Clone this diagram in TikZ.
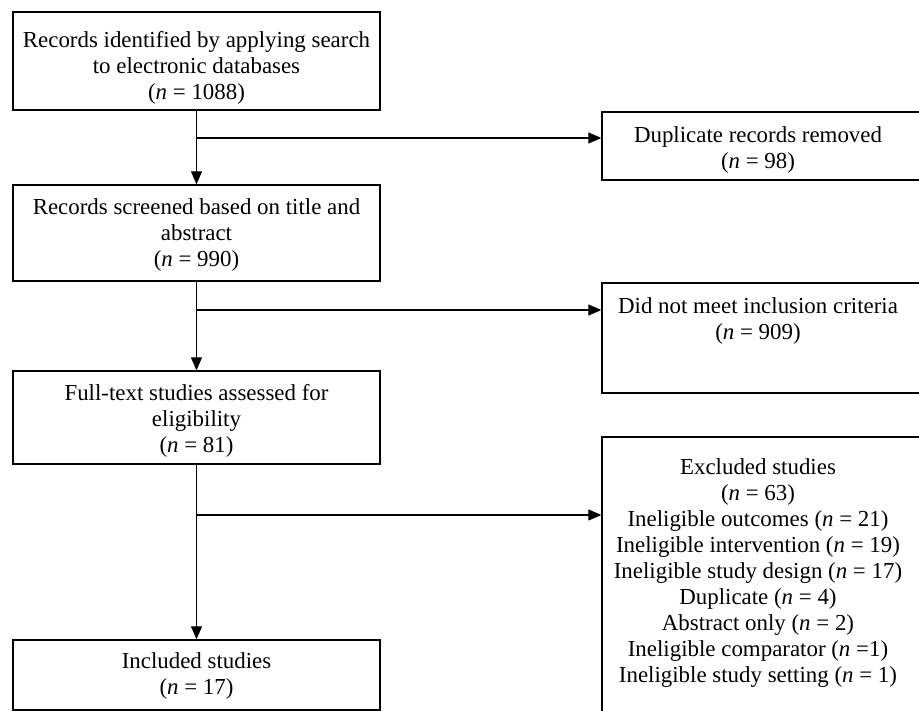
\documentclass[tikz,border=0pt]{standalone}
\usepackage{fontspec}
\setmainfont{Liberation Serif}
\usetikzlibrary{arrows.meta}

\begin{document}
\begin{tikzpicture}[x=1pt,y=-1pt,
   box/.style={draw,line width=1.3pt,inner sep=0pt},
   txt/.style={align=center,inner sep=0pt,font=\fontsize{22.9}{26}\selectfont},
   arr/.style={line width=1.2pt,-{Triangle[length=13pt,width=11pt]}}]
\useasboundingbox (0,0) rectangle (919,711);
\clip (0,0) rectangle (919,711);
% main column
\node[box,minimum width=367,minimum height=98] (ident) at (196.5,61) {};
\node[txt] (identtxt) at (196.5,67.5) {Records identified by applying search\\to electronic databases\\(\textit{n} = 1088)};
\node[box,minimum width=367,minimum height=96] (screen) at (196.5,233) {};
\node[txt] (screentxt) at (196.5,235) {Records screened based on title and\\abstract\\(\textit{n} = 990)};
\node[box,minimum width=367,minimum height=93] (full) at (196.5,417.5) {};
\node[txt] (fulltxt) at (196.5,421) {Full-text studies assessed for\\eligibility\\(\textit{n} = 81)};
\node[box,minimum width=367,minimum height=70] (incl) at (196.5,675) {};
\node[txt] (incltxt) at (196.5,675.5) {Included studies\\(\textit{n} = 17)};
% exclusions
\node[box,minimum width=323,minimum height=68] (dup) at (763.5,146) {};
\node[txt] (duptxt) at (758,149.5) {Duplicate records removed\\(\textit{n} = 98)};
\node[box,minimum width=323,minimum height=110] (nomeet) at (763.5,338) {};
\node[txt] (nomeettxt) at (758,320.5) {Did not meet inclusion criteria\\(\textit{n} = 909)};
\node[box,minimum width=323,minimum height=333] (excl) at (763.5,603.5) {};
\node[txt] (excltxt) at (758,573.5) {Excluded studies\\(\textit{n} = 63)\\
   Ineligible outcomes (\textit{n} = 21)\\Ineligible intervention (\textit{n} = 19)\\
   Ineligible study design (\textit{n} = 17)\\Duplicate (\textit{n} = 4)\\
   Abstract only (\textit{n} = 2)\\Ineligible comparator (\textit{n} =1)\\
   Ineligible study setting (\textit{n} = 1)};
% connectors
\coordinate (b1) at (196.5,138);
\coordinate (b2) at (196.5,310);
\coordinate (b3) at (196.5,515);
\draw[arr] (ident.south) -- (screen.north);
\draw[arr] (screen.south) -- (full.north);
\draw[arr] (full.south) -- (incl.north);
\draw[arr] (b1) -- (b1 -| dup.west);
\draw[arr] (b2) -- (b2 -| nomeet.west);
\draw[arr] (b3) -- (b3 -| excl.west);
\end{tikzpicture}
\end{document}
